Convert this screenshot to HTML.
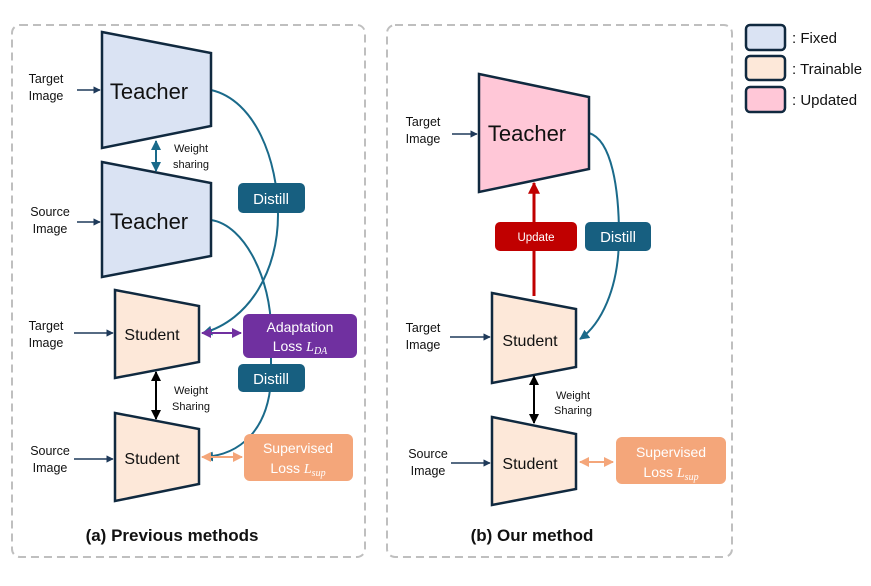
<!DOCTYPE html>
<html><head><meta charset="utf-8"><style>
body{margin:0;background:#fff;}
svg text{font-family:"Liberation Sans",sans-serif;}
</style></head><body>
<svg width="871" height="581" viewBox="0 0 871 581" xmlns="http://www.w3.org/2000/svg">
<defs>
<marker id="aN" viewBox="0 0 10 10" refX="9" refY="5" markerWidth="5" markerHeight="5" orient="auto-start-reverse"><path d="M0,0L10,5L0,10z" fill="#1f3a5a"/></marker>
<marker id="aB" viewBox="0 0 10 10" refX="9" refY="5" markerWidth="5" markerHeight="5" orient="auto-start-reverse"><path d="M0,0L10,5L0,10z" fill="#1a6a8a"/></marker>
<marker id="aK" viewBox="0 0 10 10" refX="9" refY="5" markerWidth="5" markerHeight="5" orient="auto-start-reverse"><path d="M0,0L10,5L0,10z" fill="#000"/></marker>
<marker id="aP" viewBox="0 0 10 10" refX="9" refY="5" markerWidth="5" markerHeight="5" orient="auto-start-reverse"><path d="M0,0L10,5L0,10z" fill="#7030a0"/></marker>
<marker id="aO" viewBox="0 0 10 10" refX="9" refY="5" markerWidth="5" markerHeight="5" orient="auto-start-reverse"><path d="M0,0L10,5L0,10z" fill="#f4a67a"/></marker>
<marker id="aR" viewBox="0 0 10 10" refX="9" refY="5" markerWidth="4" markerHeight="4" orient="auto-start-reverse"><path d="M0,0L10,5L0,10z" fill="#c00000"/></marker>
</defs>
<!-- panels -->
<rect x="12" y="25" width="353" height="532" rx="8" fill="none" stroke="#bfbfbf" stroke-width="2" stroke-dasharray="8,5"/>
<rect x="387" y="25" width="345" height="532" rx="8" fill="none" stroke="#bfbfbf" stroke-width="2" stroke-dasharray="8,5"/>

<!-- curves left -->
<path d="M211,90 C255,100 278,160 278,215 C278,270 250,320 203,333" fill="none" stroke="#1a6a8a" stroke-width="2" marker-end="url(#aB)"/>
<path d="M211,220 C245,225 271,280 271,330 L271,380 C268,430 240,455 204,457" fill="none" stroke="#1a6a8a" stroke-width="2" marker-end="url(#aB)"/>

<!-- left shapes -->
<polygon points="102,32 211,53 211,126 102,148" fill="#dae3f3" stroke="#10293f" stroke-width="2.5"/>
<polygon points="102,162 211,183 211,256 102,277" fill="#dae3f3" stroke="#10293f" stroke-width="2.5"/>
<polygon points="115,290 199,306 199,362 115,378" fill="#fde8d9" stroke="#10293f" stroke-width="2.5"/>
<polygon points="115,413 199,429 199,484 115,501" fill="#fde8d9" stroke="#10293f" stroke-width="2.5"/>
<text x="149" y="99" font-size="22" text-anchor="middle" fill="#111">Teacher</text>
<text x="149" y="229" font-size="22" text-anchor="middle" fill="#111">Teacher</text>
<text x="152" y="340" font-size="16" text-anchor="middle" fill="#111">Student</text>
<text x="152" y="464" font-size="16" text-anchor="middle" fill="#111">Student</text>
<g font-size="12.5" fill="#111" text-anchor="middle">
<text x="46" y="83">Target</text><text x="46" y="100">Image</text>
<text x="50" y="216">Source</text><text x="50" y="233">Image</text>
<text x="46" y="330">Target</text><text x="46" y="347">Image</text>
<text x="50" y="455">Source</text><text x="50" y="472">Image</text>
</g>
<line x1="77" y1="90" x2="100" y2="90" stroke="#1f3a5a" stroke-width="1.5" marker-end="url(#aN)"/>
<line x1="77" y1="222" x2="100" y2="222" stroke="#1f3a5a" stroke-width="1.5" marker-end="url(#aN)"/>
<line x1="74" y1="333" x2="113" y2="333" stroke="#1f3a5a" stroke-width="1.5" marker-end="url(#aN)"/>
<line x1="74" y1="459" x2="113" y2="459" stroke="#1f3a5a" stroke-width="1.5" marker-end="url(#aN)"/>
<line x1="156" y1="141" x2="156" y2="171" stroke="#1a6a8a" stroke-width="2" marker-start="url(#aB)" marker-end="url(#aB)"/>
<g font-size="11" fill="#111" text-anchor="middle">
<text x="191" y="152">Weight</text><text x="191" y="168">sharing</text>
<text x="191" y="394">Weight</text><text x="191" y="410">Sharing</text>
</g>
<line x1="156" y1="372" x2="156" y2="419" stroke="#000" stroke-width="2" marker-start="url(#aK)" marker-end="url(#aK)"/>
<line x1="202" y1="333" x2="241" y2="333" stroke="#7030a0" stroke-width="2" marker-start="url(#aP)" marker-end="url(#aP)"/>
<line x1="202" y1="457" x2="242" y2="457" stroke="#f4a67a" stroke-width="2" marker-start="url(#aO)" marker-end="url(#aO)"/>
<rect x="238" y="183" width="67" height="30" rx="5" fill="#175f80"/>
<text x="271" y="204" font-size="15" fill="#fff" text-anchor="middle">Distill</text>
<rect x="243" y="314" width="114" height="44" rx="6" fill="#7030a0"/>
<text x="300" y="332" font-size="14" fill="#fff" text-anchor="middle">Adaptation</text>
<text x="300" y="351" font-size="14" fill="#fff" text-anchor="middle">Loss <tspan font-family="Liberation Serif" font-style="italic">L</tspan><tspan font-family="Liberation Serif" font-style="italic" font-size="10" dy="3">DA</tspan></text>
<rect x="238" y="364" width="67" height="28" rx="5" fill="#175f80"/>
<text x="271" y="384" font-size="15" fill="#fff" text-anchor="middle">Distill</text>
<rect x="244" y="434" width="109" height="47" rx="6" fill="#f4a67a"/>
<text x="298" y="453" font-size="14" fill="#fff" text-anchor="middle">Supervised</text>
<text x="298" y="473" font-size="14" fill="#fff" text-anchor="middle">Loss <tspan font-family="Liberation Serif" font-style="italic">L</tspan><tspan font-family="Liberation Serif" font-style="italic" font-size="10" dy="3">sup</tspan></text>
<text x="172" y="541" font-size="17" font-weight="bold" fill="#111" text-anchor="middle">(a) Previous methods</text>

<!-- right -->
<path d="M589,133 C612,140 619,190 619,236 C619,290 600,325 580,339" fill="none" stroke="#1a6a8a" stroke-width="2" marker-end="url(#aB)"/>
<line x1="534" y1="296" x2="534" y2="183" stroke="#c00000" stroke-width="3" marker-end="url(#aR)"/>
<polygon points="479,74 589,97 589,169 479,192" fill="#ffc7d7" stroke="#10293f" stroke-width="2.5"/>
<polygon points="492,293 576,309 576,367 492,383" fill="#fde8d9" stroke="#10293f" stroke-width="2.5"/>
<polygon points="492,417 576,434 576,489 492,505" fill="#fde8d9" stroke="#10293f" stroke-width="2.5"/>
<text x="527" y="141" font-size="22" text-anchor="middle" fill="#111">Teacher</text>
<text x="530" y="346" font-size="16" text-anchor="middle" fill="#111">Student</text>
<text x="530" y="469" font-size="16" text-anchor="middle" fill="#111">Student</text>
<g font-size="12.5" fill="#111" text-anchor="middle">
<text x="423" y="126">Target</text><text x="423" y="143">Image</text>
<text x="423" y="332">Target</text><text x="423" y="349">Image</text>
<text x="428" y="458">Source</text><text x="428" y="475">Image</text>
</g>
<line x1="452" y1="134" x2="477" y2="134" stroke="#1f3a5a" stroke-width="1.5" marker-end="url(#aN)"/>
<line x1="450" y1="337" x2="490" y2="337" stroke="#1f3a5a" stroke-width="1.5" marker-end="url(#aN)"/>
<line x1="451" y1="463" x2="490" y2="463" stroke="#1f3a5a" stroke-width="1.5" marker-end="url(#aN)"/>
<line x1="534" y1="376" x2="534" y2="423" stroke="#000" stroke-width="2" marker-start="url(#aK)" marker-end="url(#aK)"/>
<g font-size="11" fill="#111" text-anchor="middle">
<text x="573" y="399">Weight</text><text x="573" y="414">Sharing</text>
</g>
<line x1="580" y1="462" x2="613" y2="462" stroke="#f4a67a" stroke-width="2" marker-start="url(#aO)" marker-end="url(#aO)"/>
<rect x="495" y="222" width="82" height="29" rx="5" fill="#c00000"/>
<text x="536" y="241" font-size="11.5" fill="#fff" text-anchor="middle">Update</text>
<rect x="585" y="222" width="66" height="29" rx="5" fill="#175f80"/>
<text x="618" y="242" font-size="15" fill="#fff" text-anchor="middle">Distill</text>
<rect x="616" y="437" width="110" height="47" rx="6" fill="#f4a67a"/>
<text x="671" y="457" font-size="14" fill="#fff" text-anchor="middle">Supervised</text>
<text x="671" y="477" font-size="14" fill="#fff" text-anchor="middle">Loss <tspan font-family="Liberation Serif" font-style="italic">L</tspan><tspan font-family="Liberation Serif" font-style="italic" font-size="10" dy="3">sup</tspan></text>
<text x="532" y="541" font-size="17" font-weight="bold" fill="#111" text-anchor="middle">(b) Our method</text>

<!-- legend -->
<rect x="746" y="25" width="39" height="25" rx="4" fill="#dae3f3" stroke="#10293f" stroke-width="2.5"/>
<rect x="746" y="56" width="39" height="24" rx="4" fill="#fde8d9" stroke="#10293f" stroke-width="2.5"/>
<rect x="746" y="87" width="39" height="25" rx="4" fill="#ffc7d7" stroke="#10293f" stroke-width="2.5"/>
<g font-size="15" fill="#111">
<text x="792" y="43">: Fixed</text>
<text x="792" y="74">: Trainable</text>
<text x="792" y="105">: Updated</text>
</g>
</svg>
</body></html>
